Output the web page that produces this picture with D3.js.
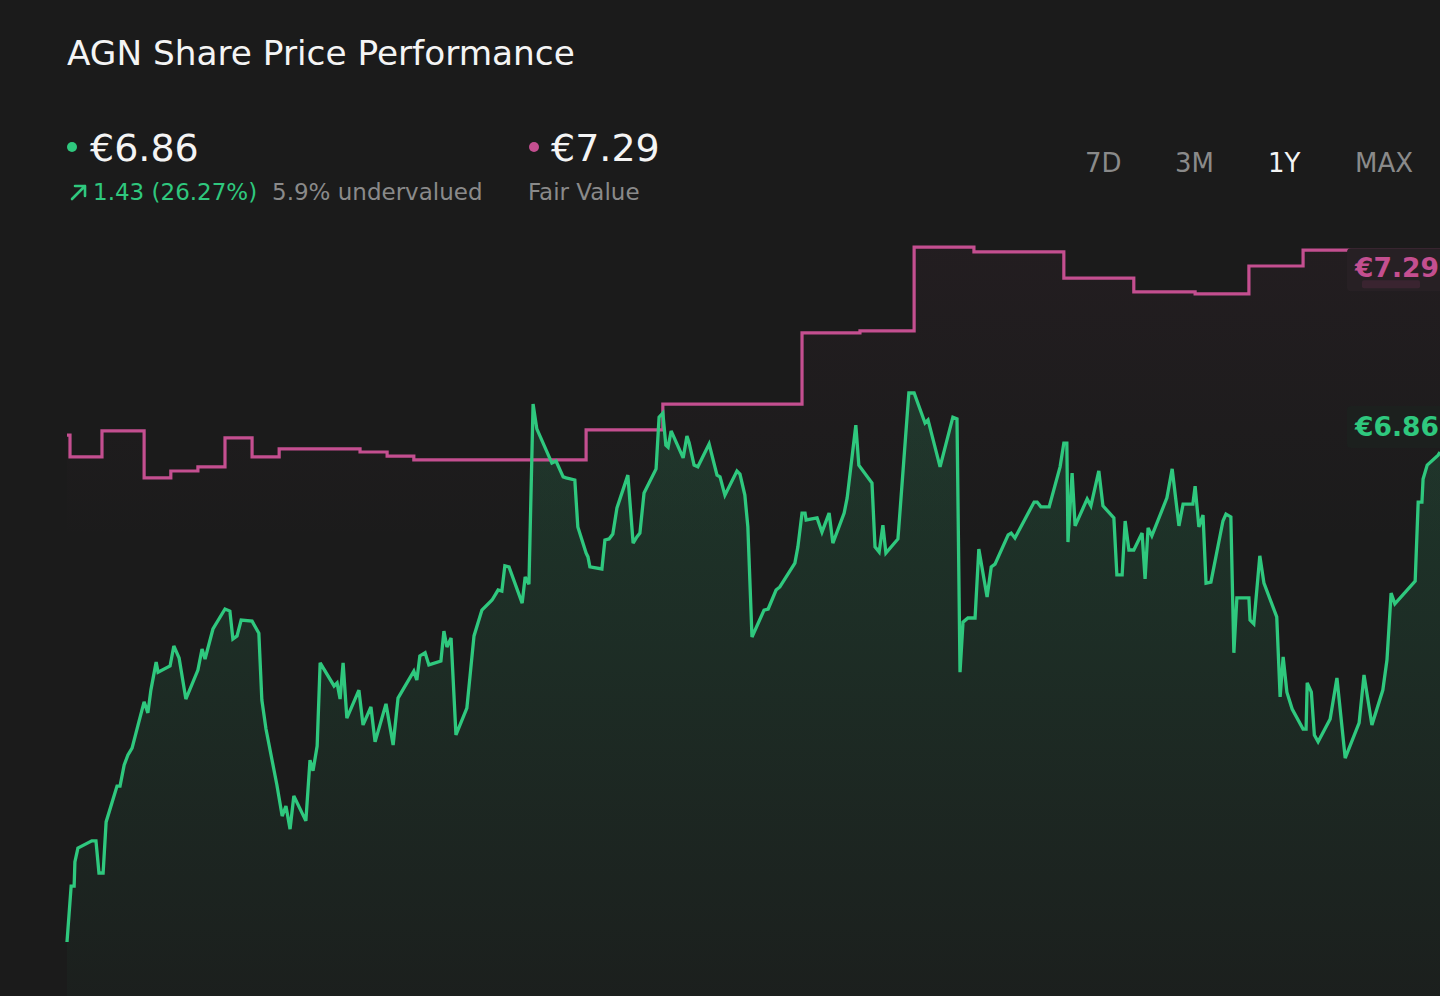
<!DOCTYPE html>
<html>
<head>
<meta charset="utf-8">
<script src="https://cdn.jsdelivr.net/npm/d3@7"></script>
<style>
html,body{margin:0;padding:0;background:#1b1b1b;overflow:hidden;}
svg{display:block;font-family:"DejaVu Sans",sans-serif;}
</style>
</head>
<body>
<svg id="chart" width="1440" height="996"></svg>
<script>
// ---- data ----
const title = "AGN Share Price Performance";
const priceDays = [0,1.1,1.9,2.1,2.9,6.6,7.7,8.5,9.6,10.4,13.3,14.1,15.2,16.2,17.3,18.9,20.5,21.5,22.3,23.7,24.2,27.4,28.4,29.8,31.6,34.8,35.9,36.7,38.8,42.0,43.3,44.1,45.2,46.3,49.2,51.0,51.8,52.9,55.8,57.2,58.2,59.3,60.3,63.5,64.6,65.4,66.5,67.3,71.0,71.8,72.6,73.4,74.4,77.6,78.7,80.8,81.9,84.8,86.7,88.0,89.9,92.2,93.0,93.8,95.2,96.2,99.4,100.2,101.0,102.1,103.4,106.3,108.2,110.3,113.0,114.6,115.6,116.4,117.5,121.0,121.8,122.8,123.9,124.9,128.9,130.0,131.9,132.7,135.0,135.8,138.0,138.5,139.0,142.2,143.0,144.1,145.1,146.2,149.1,150.5,151.5,152.3,153.4,156.6,157.4,158.4,159.2,159.8,160.6,163.8,164.8,165.4,166.7,167.7,170.7,172.8,173.6,174.9,178.1,178.9,180.2,181.0,182.1,185.3,186.4,188.5,189.5,192.7,193.5,194.3,195.4,196.2,196.5,199.4,200.7,202.6,203.6,206.6,207.4,209.7,210.5,214.0,214.8,215.9,216.9,217.7,220.9,223.8,225.2,228.1,228.9,232.1,235.5,236.6,237.4,238.2,239.5,241.4,242.4,244.6,245.7,246.7,250.2,251.0,252.0,257.1,257.9,258.9,261.1,264.0,265.0,265.8,266.1,267.2,268.0,271.2,272.2,274.3,275.4,278.3,279.1,280.5,281.3,282.3,283.6,285.8,286.6,287.4,288.4,292.4,293.8,295.6,296.7,299.3,299.9,300.9,302.0,302.8,304.1,307.3,308.1,309.4,310.2,311.0,314.2,314.5,315.5,317.1,318.2,321.6,322.5,323.3,324.3,325.7,328.6,329.4,329.7,330.8,331.6,332.6,335.8,337.6,339.8,343.5,344.8,346.9,349.8,350.9,352.0,353.0,358.4,359.2,360.2,360.5,361.6,364.5,365];
const prices = [5.440,5.602,5.602,5.672,5.712,5.733,5.733,5.640,5.640,5.788,5.892,5.892,5.953,5.982,6.002,6.069,6.136,6.104,6.170,6.251,6.222,6.240,6.298,6.263,6.144,6.228,6.289,6.260,6.347,6.405,6.399,6.318,6.327,6.373,6.370,6.335,6.141,6.057,5.895,5.805,5.834,5.767,5.863,5.791,5.967,5.936,6.008,6.249,6.182,6.191,6.144,6.249,6.089,6.170,6.069,6.121,6.020,6.130,6.011,6.147,6.182,6.225,6.199,6.269,6.278,6.243,6.254,6.341,6.295,6.321,6.040,6.118,6.327,6.402,6.431,6.460,6.457,6.530,6.527,6.422,6.498,6.477,6.999,6.927,6.828,6.834,6.788,6.785,6.779,6.643,6.567,6.556,6.527,6.521,6.605,6.608,6.622,6.698,6.793,6.596,6.614,6.625,6.741,6.811,6.961,6.973,6.880,6.874,6.921,6.843,6.906,6.886,6.822,6.817,6.883,6.793,6.788,6.735,6.805,6.796,6.735,6.643,6.324,6.402,6.405,6.460,6.469,6.524,6.538,6.585,6.683,6.683,6.663,6.669,6.628,6.683,6.596,6.683,6.727,6.938,6.822,6.770,6.585,6.570,6.648,6.567,6.608,7.031,7.031,6.944,6.953,6.817,6.961,6.956,6.222,6.367,6.379,6.379,6.579,6.440,6.527,6.535,6.620,6.625,6.611,6.715,6.715,6.701,6.701,6.817,6.886,6.886,6.599,6.799,6.646,6.724,6.704,6.805,6.704,6.669,6.504,6.504,6.660,6.576,6.576,6.625,6.492,6.640,6.617,6.727,6.811,6.646,6.709,6.709,6.761,6.643,6.677,6.480,6.483,6.660,6.680,6.672,6.278,6.437,6.437,6.373,6.362,6.559,6.480,6.382,6.150,6.266,6.164,6.115,6.057,6.057,6.191,6.164,6.040,6.020,6.086,6.205,5.973,6.075,6.214,6.069,6.170,6.257,6.451,6.420,6.486,6.715,6.715,6.782,6.822,6.851,6.860];
const fairDays = [0,0.8,9.3,20.5,27.6,34.8,42.0,49.2,56.4,77.9,85.1,92.2,138.0,158.4,195.4,210.8,225.2,241.1,265.0,283.6,299.9,314.2,328.6,365];
const fairValues = [6.909,6.846,6.921,6.785,6.805,6.817,6.901,6.846,6.869,6.860,6.848,6.837,6.924,6.999,7.205,7.211,7.454,7.440,7.364,7.324,7.318,7.399,7.445,7.445];
const ranges = ["7D","3M","1Y","MAX"];
const activeRange = "1Y";
const priceLabel = "€6.86";
const fairLabel = "€7.29";
const changeLabel = "1.43 (26.27%)";
const valuationLabel = "5.9% undervalued";
const fairCaption = "Fair Value";

// ---- layout / style ----
const W = 1440, H = 996;
const GREEN = "#2fc87e", PINK = "#c44f90", GREY = "#8a8a8a", WHITE = "#f4f4f4";
const svg = d3.select("#chart");

const x = d3.scaleLinear().domain([0, 365]).range([67, 1440]);
const y = d3.scaleLinear().domain([5.44, 6.86]).range([942, 452]);

const priceData = priceDays.map((d, i) => ({d, v: prices[i]}));
const fairData = fairDays.map((d, i) => ({d, v: fairValues[i]}));

const defs = svg.append("defs");
const gG = defs.append("linearGradient").attr("id", "gGreen")
  .attr("gradientUnits", "userSpaceOnUse").attr("x1", 0).attr("x2", 0)
  .attr("y1", y(d3.max(prices))).attr("y2", H);
gG.append("stop").attr("offset", 0).attr("stop-color", GREEN).attr("stop-opacity", 0.16);
gG.append("stop").attr("offset", 1).attr("stop-color", GREEN).attr("stop-opacity", 0.025);
const gP = defs.append("linearGradient").attr("id", "gPink")
  .attr("gradientUnits", "userSpaceOnUse").attr("x1", 0).attr("x2", 0)
  .attr("y1", y(d3.max(fairValues))).attr("y2", y(d3.max(fairValues)) + 300);
gP.append("stop").attr("offset", 0).attr("stop-color", PINK).attr("stop-opacity", 0.045);
gP.append("stop").attr("offset", 1).attr("stop-color", PINK).attr("stop-opacity", 0);

// pink area (fair value)
svg.append("path").datum(fairData)
  .attr("fill", "url(#gPink)")
  .attr("d", d3.area().curve(d3.curveStepAfter).x(d => x(d.d)).y0(H).y1(d => y(d.v)));

// green area
svg.append("path").datum(priceData)
  .attr("fill", "url(#gGreen)")
  .attr("d", d3.area().x(d => x(d.d)).y0(H).y1(d => y(d.v)));

// fair value step line
svg.append("path").datum(fairData)
  .attr("fill", "none").attr("stroke", PINK).attr("stroke-width", 3.2)
  .attr("d", d3.line().curve(d3.curveStepAfter).x(d => x(d.d)).y(d => y(d.v)));

// price line
svg.append("path").datum(priceData)
  .attr("fill", "none").attr("stroke", GREEN).attr("stroke-width", 3.3)
  .attr("stroke-linejoin", "miter").attr("stroke-miterlimit", 3)
  .attr("d", d3.line().x(d => x(d.d)).y(d => y(d.v)));

// end labels
const lastFV = y(fairValues[fairValues.length - 1]);
const lastP = y(prices[prices.length - 1]);
svg.append("rect").attr("x", 1347).attr("y", lastFV - 2).attr("width", 100).attr("height", 43)
  .attr("rx", 4).attr("fill", "#272024");
svg.append("rect").attr("x", 1362).attr("y", lastFV + 30).attr("width", 58).attr("height", 8)
  .attr("rx", 2).attr("fill", "#3a2430");
svg.append("text").attr("x", 1355).attr("y", lastFV + 27)
  .attr("fill", PINK).attr("font-size", 26.5).attr("font-weight", "bold").text(fairLabel);
svg.append("rect").attr("x", 1347).attr("y", lastP - 46).attr("width", 100).attr("height", 42)
  .attr("rx", 4).attr("fill", "#1c201e");
svg.append("text").attr("x", 1355).attr("y", lastP - 16)
  .attr("fill", GREEN).attr("font-size", 26.5).attr("font-weight", "bold").text(priceLabel);

// header
svg.append("text").attr("x", 67).attr("y", 65).attr("fill", WHITE)
  .attr("font-size", 34.3).text(title);

svg.append("circle").attr("cx", 72).attr("cy", 147).attr("r", 5).attr("fill", GREEN);
svg.append("text").attr("x", 90).attr("y", 161).attr("fill", WHITE).attr("font-size", 38).text(priceLabel);
svg.append("circle").attr("cx", 534).attr("cy", 147).attr("r", 5).attr("fill", PINK);
svg.append("text").attr("x", 551).attr("y", 161).attr("fill", WHITE).attr("font-size", 38).text(fairLabel);

// arrow icon
svg.append("path").attr("d", "M72,199 L85,186 M75,186 L85,186 L85,196")
  .attr("fill", "none").attr("stroke", GREEN).attr("stroke-width", 2.6).attr("stroke-linecap", "round")
  .attr("stroke-linejoin", "round");
svg.append("text").attr("x", 93).attr("y", 200).attr("fill", GREEN).attr("font-size", 23).text(changeLabel);
svg.append("text").attr("x", 272).attr("y", 200).attr("fill", GREY).attr("font-size", 23).text(valuationLabel);
svg.append("text").attr("x", 528).attr("y", 200).attr("fill", GREY).attr("font-size", 23).text(fairCaption);

// range buttons
const rangeX = [1085, 1175, 1268, 1355];
svg.selectAll("text.range").data(ranges).enter().append("text")
  .attr("class", "range")
  .attr("x", (d, i) => rangeX[i]).attr("y", 172)
  .attr("font-size", 26)
  .attr("fill", d => d === activeRange ? WHITE : GREY)
  .text(d => d);
</script>
</body>
</html>
